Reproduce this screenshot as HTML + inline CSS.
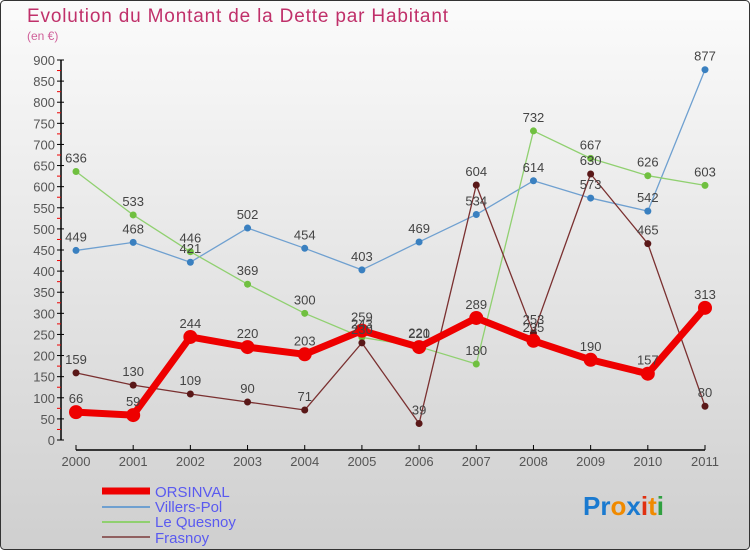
<!DOCTYPE html>
<html><head><meta charset="utf-8"><style>
body{margin:0;width:750px;height:550px;overflow:hidden;font-family:"Liberation Sans",sans-serif}
</style></head><body>
<svg width="750" height="550" xmlns="http://www.w3.org/2000/svg">
<defs><linearGradient id="bg" x1="0" y1="0" x2="0" y2="1"><stop offset="0" stop-color="#fbfbfb"/><stop offset="1" stop-color="#cfcfcf"/></linearGradient></defs>
<rect x="0.5" y="0.5" width="749" height="549" rx="4" fill="url(#bg)" stroke="#333"/>
<text x="27" y="22" font-size="19" fill="#c0306a" textLength="421">Evolution du Montant de la Dette par Habitant</text>
<text x="27" y="40" font-size="12" fill="#d0609a">(en €)</text>
<g id="axes"></g><g id="series"></g><g id="labels"></g>
<g font-size="15" fill="#5a5af0">
<line x1="102" y1="491" x2="150" y2="491" stroke="#ee0000" stroke-width="7"/>
<text x="155" y="497">ORSINVAL</text>
<line x1="102" y1="507" x2="150" y2="507" stroke="#6fa0d0" stroke-width="2"/>
<text x="155" y="512">Villers-Pol</text>
<line x1="102" y1="522" x2="150" y2="522" stroke="#90d070" stroke-width="2"/>
<text x="155" y="527">Le Quesnoy</text>
<line x1="102" y1="537" x2="150" y2="537" stroke="#906060" stroke-width="2"/>
<text x="155" y="543">Frasnoy</text>
</g>
<g font-size="26" font-weight="bold">
<text x="583" y="515"><tspan fill="#1a7ad0">Pr</tspan><tspan fill="#f08a00">o</tspan><tspan fill="#1a7ad0">x</tspan><tspan fill="#e03010">i</tspan><tspan fill="#f08a00">t</tspan><tspan fill="#30a040">i</tspan></text>
</g>
</svg>
<script>
const years=['2000','2001','2002','2003','2004','2005','2006','2007','2008','2009','2010','2011'];
const orsinval=[66,59,244,220,203,259,220,289,235,190,157,313];
const villersPol=[449,468,421,502,454,403,469,534,614,573,542,877];
const leQuesnoy=[636,533,446,369,300,243,221,180,732,667,626,603];
const frasnoy=[159,130,109,90,71,230,39,604,253,630,465,80];
const yTicks=[0,50,100,150,200,250,300,350,400,450,500,550,600,650,700,750,800,850,900];
const NS='http://www.w3.org/2000/svg';
const X=i=>76+i*(705-76)/11, Y=v=>440-v*380/900;
function mk(t,a,p){const e=document.createElementNS(NS,t);for(const k in a)e.setAttribute(k,a[k]);p.appendChild(e);return e;}
const ax=document.getElementById('axes'),se=document.getElementById('series'),lb=document.getElementById('labels');
let e=mk('line',{x1:61,y1:Y(0),x2:61,y2:Y(900),stroke:'#000','stroke-width':1.5},ax);

yTicks.forEach(v=>{mk('line',{x1:57,y1:Y(v),x2:64,y2:Y(v),stroke:'#000'},ax);
 if(v<900)mk('line',{x1:57,y1:Y(v+25),x2:61,y2:Y(v+25),stroke:'#e00'},ax);
 const t=mk('text',{x:55,y:Y(v)+5,'text-anchor':'end','font-size':13,fill:'#555'},ax);t.textContent=v;
 });
e=mk('line',{x1:X(0),y1:450,x2:X(11),y2:450,stroke:'#000','stroke-width':1.5},ax);

years.forEach((y,i)=>{mk('line',{x1:X(i),y1:445,x2:X(i),y2:450,stroke:'#000'},ax);
 const t=mk('text',{x:X(i),y:466,'text-anchor':'middle','font-size':13,fill:'#555'},ax);t.textContent=y;
 });
function draw(vals,name,col,dot,w,r){
 const g=mk('g',{},se);
 mk('polyline',{points:vals.map((v,i)=>X(i)+','+Y(v)).join(' '),fill:'none',stroke:col,'stroke-width':w,'stroke-linejoin':'round'},g);
 vals.forEach((v,i)=>{const c=mk('circle',{cx:X(i),cy:Y(v),r:r,fill:dot},g);
  
  const t=mk('text',{x:X(i),y:Y(v)-9,'text-anchor':'middle','font-size':13,fill:'#444'},lb);t.textContent=v;
  });
}
draw(villersPol,'villers-pol','#6fa0d0','#3a80c0',1.3,3.5);
draw(leQuesnoy,'le-quesnoy','#90d070','#70c040',1.3,3.5);
draw(frasnoy,'frasnoy','#7a3030','#5a1818',1.3,3.5);
draw(orsinval,'orsinval','#ee0000','#ee0000',7,7);
</script>
</body></html>
